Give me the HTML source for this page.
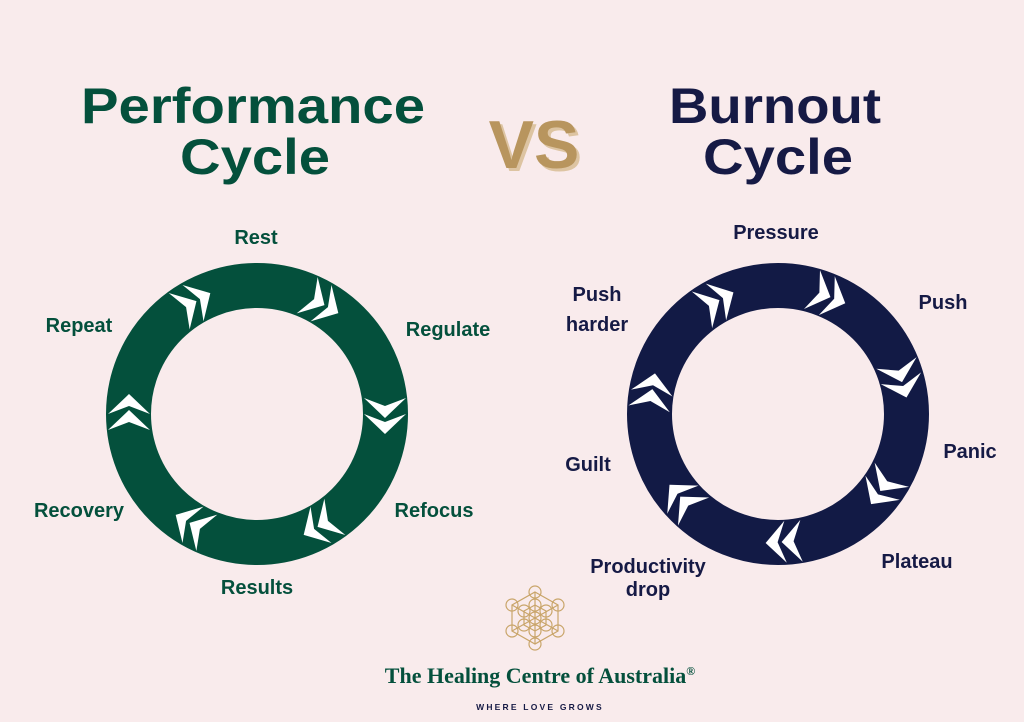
<!DOCTYPE html>
<html><head><meta charset="utf-8"><style>
html,body{margin:0;padding:0;background:#f9ebec;}
svg{display:block}
text{font-family:"Liberation Sans",sans-serif;font-weight:bold}
</style></head><body>
<svg width="1024" height="722" viewBox="0 0 1024 722" xmlns="http://www.w3.org/2000/svg">
<rect width="1024" height="722" fill="#f9ebec"/>
<defs>
<g id="chev">
<polygon points="-16,-21 4,0 -16,21 -8,0" fill="#fff"/>
<polygon points="0,-21 20,0 0,21 8,0" fill="#fff"/>
</g>
</defs>
<!-- titles -->
<g fill="#04503c" font-size="50" text-anchor="middle">
<text x="253" y="123" textLength="344" lengthAdjust="spacingAndGlyphs">Performance</text>
<text x="255" y="174" textLength="150" lengthAdjust="spacingAndGlyphs">Cycle</text>
</g>
<g fill="#161a45" font-size="50" text-anchor="middle">
<text x="775" y="123" textLength="212" lengthAdjust="spacingAndGlyphs">Burnout</text>
<text x="778" y="174" textLength="150" lengthAdjust="spacingAndGlyphs">Cycle</text>
</g>
<text x="537" y="171" font-size="68" fill="#ddc4a2" text-anchor="middle">VS</text>
<text x="534" y="168" font-size="68" fill="#b8955e" text-anchor="middle">VS</text>

<!-- left ring -->
<circle cx="257" cy="414" r="128.5" fill="none" stroke="#04503c" stroke-width="45"/>
<g>
<use href="#chev" transform="translate(257,414) rotate(-30) translate(0,-128)"/>
<use href="#chev" transform="translate(257,414) rotate(30) translate(0,-128)"/>
<use href="#chev" transform="translate(257,414) rotate(90) translate(0,-128)"/>
<use href="#chev" transform="translate(257,414) rotate(150) translate(0,-128)"/>
<use href="#chev" transform="translate(257,414) rotate(210) translate(0,-128)"/>
<use href="#chev" transform="translate(257,414) rotate(270) translate(0,-128)"/>
</g>
<!-- right ring -->
<circle cx="778" cy="414" r="128.5" fill="none" stroke="#121a45" stroke-width="45"/>
<g>
<use href="#chev" transform="translate(778,414) rotate(-29) translate(0,-128)"/>
<use href="#chev" transform="translate(778,414) rotate(22.4) translate(0,-128)"/>
<use href="#chev" transform="translate(778,414) rotate(73.8) translate(0,-128)"/>
<use href="#chev" transform="translate(778,414) rotate(125.2) translate(0,-128)"/>
<use href="#chev" transform="translate(778,414) rotate(176.6) translate(0,-128)"/>
<use href="#chev" transform="translate(778,414) rotate(228) translate(0,-128)"/>
<use href="#chev" transform="translate(778,414) rotate(279.4) translate(0,-128)"/>
</g>

<!-- left labels -->
<g fill="#04503c" font-size="20" text-anchor="middle">
<text x="256" y="244">Rest</text>
<text x="448" y="336">Regulate</text>
<text x="434" y="517">Refocus</text>
<text x="257" y="594">Results</text>
<text x="79" y="517">Recovery</text>
<text x="79" y="332">Repeat</text>
</g>
<!-- right labels -->
<g fill="#161a45" font-size="20" text-anchor="middle">
<text x="776" y="239">Pressure</text>
<text x="943" y="309">Push</text>
<text x="970" y="458">Panic</text>
<text x="917" y="568">Plateau</text>
<text x="648" y="573">Productivity</text>
<text x="648" y="596">drop</text>
<text x="588" y="471">Guilt</text>
<text x="597" y="301">Push</text>
<text x="597" y="331">harder</text>
</g>

<!-- logo -->
<g fill="none" stroke="#c9a56a" stroke-width="1.2">
<circle cx="535" cy="592" r="6"/><circle cx="535" cy="644" r="6"/>
<circle cx="512" cy="605" r="6"/><circle cx="558" cy="605" r="6"/>
<circle cx="512" cy="631" r="6"/><circle cx="558" cy="631" r="6"/>
<circle cx="535" cy="605" r="6"/><circle cx="535" cy="631" r="6"/>
<circle cx="524" cy="611" r="6"/><circle cx="546" cy="611" r="6"/>
<circle cx="524" cy="625" r="6"/><circle cx="546" cy="625" r="6"/>
<circle cx="535" cy="618" r="6"/>
<polygon points="535,592 558,605 558,631 535,644 512,631 512,605"/>
<polygon points="535,605 546,611 546,625 535,631 524,625 524,611"/>
<line x1="535" y1="592" x2="535" y2="644"/>
<line x1="512" y1="605" x2="558" y2="631"/>
<line x1="558" y1="605" x2="512" y2="631"/>
</g>
<text x="540" y="683" font-size="22" fill="#04503c" text-anchor="middle" style="font-family:'Liberation Serif',serif">The Healing Centre of Australia<tspan font-size="12" dy="-8">®</tspan></text>
<text x="540" y="710" font-size="8.5" fill="#161a45" text-anchor="middle" letter-spacing="2.2">WHERE LOVE GROWS</text>
</svg>
</body></html>
